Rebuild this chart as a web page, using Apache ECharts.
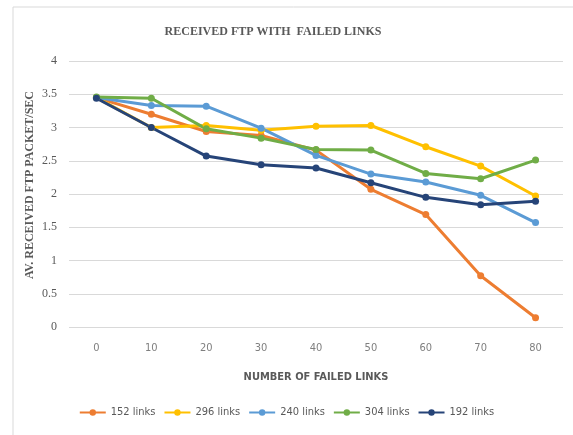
<!DOCTYPE html>
<html><head><meta charset="utf-8">
<script src="https://cdn.jsdelivr.net/npm/echarts@6/dist/echarts.min.js"></script>
<style>html,body{margin:0;padding:0;background:#fff}#c{width:573px;height:435px}</style>
</head><body><div id="c"></div>
<script>
const categories = ['0','10','20','30','40','50','60','70','80'];
const yTicks = [0,0.5,1,1.5,2,2.5,3,3.5,4];
const s152 = [3.45,3.20,2.94,2.88,2.66,2.07,1.69,0.77,0.14];
const s296 = [3.45,3.00,3.03,2.96,3.02,3.03,2.71,2.42,1.97];
const s240 = [3.45,3.33,3.32,2.99,2.58,2.30,2.18,1.98,1.57];
const s304 = [3.46,3.44,2.98,2.84,2.67,2.66,2.31,2.23,2.51];
const s192 = [3.44,3.00,2.57,2.44,2.39,2.17,1.95,1.84,1.89];
const names = ['152 links','296 links','240 links','304 links','192 links'];
const colors = ['#ED7D31','#FFC000','#5B9BD5','#70AD47','#264478'];
const data = [s152,s296,s240,s304,s192];
const yName = 'AV. RECEIVED FTP PACKET/SEC';
const narrow = 'Liberation Sans Narrow, DejaVu Sans Condensed, sans-serif';

const chart = echarts.init(document.getElementById('c'));
chart.setOption({
  animation:false,
  color: colors,
  title:{text:'RECEIVED FTP WITH  FAILED LINKS', left:268, top:21, textAlign:'center',
    textStyle:{fontFamily:'Liberation Serif', fontWeight:'bold', fontSize:12, color:'#595959'}},
  graphic:[
    {type:'rect', shape:{x:13,y:7,width:600,height:450}, style:{fill:'none', stroke:'#d9d9d9', lineWidth:1}},
    {type:'text', x:30, y:185, rotation:Math.PI/2,
      style:{text:yName, fill:'#595959', font:'bold 12px "Liberation Serif"', textAlign:'center', textVerticalAlign:'middle'}}
  ],
  grid:{left:69, right:10, top:61, bottom:108},
  legend:{bottom:12, left:'center', itemWidth:26, itemHeight:8, itemGap:8,
    textStyle:{fontFamily:narrow, fontSize:11, color:'#595959'}},
  xAxis:{type:'category', data:categories, boundaryGap:true,
    name:'NUMBER OF FAILED LINKS', nameLocation:'middle', nameGap:45,
    nameTextStyle:{fontFamily:narrow, fontWeight:'bold', fontSize:11, color:'#595959'},
    axisLine:{show:false}, axisTick:{show:false},
    axisLabel:{color:'#7f7f7f', fontFamily:narrow, fontSize:11, margin:16}},
  yAxis:{type:'value', min:yTicks[0], max:yTicks[yTicks.length-1], interval:0.5,
    axisLine:{show:false}, axisTick:{show:false},
    axisLabel:{color:'#595959', fontFamily:'Liberation Serif', fontSize:12, margin:12},
    splitLine:{lineStyle:{color:'#d9d9d9', width:1}}},
  series: data.map((d,i)=>({name:names[i], type:'line', data:d, symbol:'circle', symbolSize:7,
    lineStyle:{width:3}, itemStyle:{color:colors[i]}}))
});
</script></body></html>
